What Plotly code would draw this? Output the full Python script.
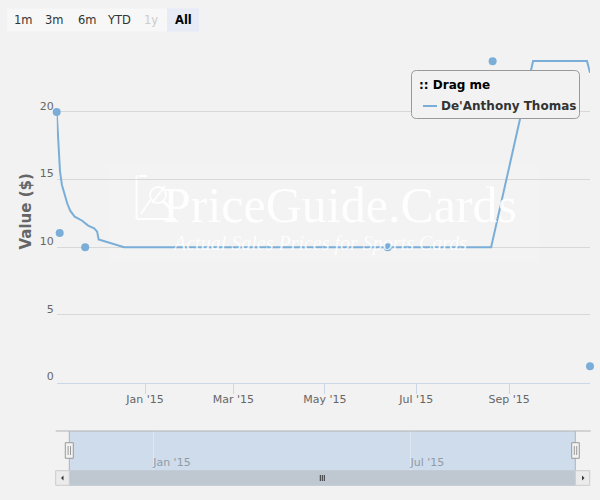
import plotly.graph_objects as go

# ---------------- data ----------------
series_name = "De'Anthony Thomas"
line_dates = ["2014-11-03", "2014-11-04", "2014-11-05 05:00", "2014-11-06 12:00", "2014-11-08",
              "2014-11-10", "2014-11-12", "2014-11-15", "2014-11-20", "2014-11-24",
              "2014-11-28", "2014-11-30", "2014-12-01", "2014-12-09", "2014-12-18",
              "2015-08-20", "2015-09-17", "2015-10-23", "2015-10-25"]
line_values = [20.0, 17.8, 15.6, 14.6, 14.0,
               13.25, 12.7, 12.26, 11.96, 11.6,
               11.4, 11.15, 10.58, 10.33, 10.0,
               10.0, 23.76, 23.76, 22.9]
sale_dates = ["2014-11-03", "2014-11-05", "2014-11-22", "2015-06-12", "2015-08-21", "2015-10-25"]
sale_values = [20.0, 11.05, 10.0, 10.0, 23.75, 1.2]

x_start, x_end = "2014-11-03", "2015-10-25"
x_tick_dates = ["2015-01-01", "2015-03-01", "2015-05-01", "2015-07-01", "2015-09-01"]
x_tick_labels = ["Jan '15", "Mar '15", "May '15", "Jul '15", "Sep '15"]
nav_tick_dates = ["2015-01-01", "2015-07-01"]
nav_tick_labels = ["Jan '15", "Jul '15"]
y_ticks = [0, 5, 10, 15, 20, 25]
y_tick_labels = ["0", "5", "10", "15", "20", ""]
range_buttons = ["1m", "3m", "6m", "YTD", "1y", "All"]
y_title = "Value ($)"
legend_title = ":: Drag me"
watermark_title = "PriceGuide.Cards"
watermark_sub = "Actual Sales Prices for Sports Cards"

# ---------------- styling helpers ----------------
W, H = 600, 500
BG = "#f2f2f2"
SERIES = "#7aaed8"
FONT = "DejaVu Sans"


def px(x):
    return x / W


def py(y):
    return 1 - y / H


def rect(x0, y0, x1, y1, fill=None, line=None, lw=1, layer="above"):
    return dict(type="rect", xref="paper", yref="paper",
                x0=px(x0), x1=px(x1), y0=py(y1), y1=py(y0),
                fillcolor=fill if fill else "rgba(0,0,0,0)",
                line=dict(color=line if line else "rgba(0,0,0,0)", width=lw if line else 0),
                layer=layer)


def seg(x0, y0, x1, y1, color, lw=1, layer="above"):
    return dict(type="line", xref="paper", yref="paper",
                x0=px(x0), x1=px(x1), y0=py(y0), y1=py(y1),
                line=dict(color=color, width=lw), layer=layer)


def rounded(x0, y0, x1, y1, r):
    rx, ry = r / W, r / H
    a, b, c, d = px(x0), px(x1), py(y1), py(y0)  # left, right, bottom, top
    return (f"M {a+rx},{d} L {b-rx},{d} Q {b},{d} {b},{d-ry} L {b},{c+ry} "
            f"Q {b},{c} {b-rx},{c} L {a+rx},{c} Q {a},{c} {a},{c+ry} "
            f"L {a},{d-ry} Q {a},{d} {a+rx},{d} Z")


fig = go.Figure()

# series
fig.add_trace(go.Scatter(x=line_dates, y=line_values, mode="lines", name=series_name,
                         line=dict(color=SERIES, width=2), showlegend=False,
                         hoverinfo="skip", xaxis="x", yaxis="y"))
fig.add_trace(go.Scatter(x=sale_dates, y=sale_values, mode="markers", name=series_name,
                         marker=dict(color=SERIES, size=8), showlegend=False,
                         cliponaxis=False, xaxis="x", yaxis="y"))
# navigator axis carrier (series hidden in the navigator, as in the reference)
fig.add_trace(go.Scatter(x=line_dates, y=line_values, mode="lines", name="navigator",
                         line=dict(color=SERIES, width=1), opacity=0, showlegend=False,
                         hoverinfo="skip", xaxis="x2", yaxis="y2"))

shapes = []
annotations = []

# faint watermark backdrop + logo
shapes.append(rect(107, 165, 540, 262, fill="rgba(255,255,255,0.1)", layer="below"))
wm = "rgba(255,255,255,0.85)"
shapes += [
    seg(136.5, 175, 136.5, 219, wm, 2, "below"),
    seg(136.5, 219, 176, 219, wm, 2, "below"),
    seg(139, 176, 147, 176, wm, 2, "below"),
    seg(141, 214, 151, 199, wm, 2, "below"),
    seg(152, 203, 165, 186, wm, 2, "below"),
    seg(163, 201, 171, 209, wm, 3, "below"),
    dict(type="circle", xref="paper", yref="paper", x0=px(150), x1=px(166), y0=py(203), y1=py(187),
         line=dict(color=wm, width=2), layer="below"),
]
annotations.append(dict(text=watermark_title, xref="paper", yref="paper", x=px(340), y=py(205),
                        xanchor="center", yanchor="middle", showarrow=False,
                        font=dict(family="Liberation Serif", size=50, color=wm)))
annotations.append(dict(text=f"<i>{watermark_sub}</i>", xref="paper", yref="paper", x=px(319), y=py(243),
                        xanchor="center", yanchor="middle", showarrow=False,
                        font=dict(family="Liberation Serif", size=20, color=wm)))

# y-axis title
annotations.append(dict(text=f"<b>{y_title}</b>", xref="paper", yref="paper", x=px(25.5), y=py(212),
                        xanchor="center", yanchor="middle", textangle=-90, showarrow=False,
                        font=dict(family=FONT, size=15, color="#666666")))

# range selector buttons
for i, lab in enumerate(range_buttons):
    x0 = 7 + 32 * i
    selected = lab == "All"
    shapes.append(rect(x0, 8.5, x0 + 32, 31.5, fill="#e6ebf5" if selected else "#f7f7f7"))
    color = "#000000" if selected else ("#cccccc" if lab == "1y" else "#333333")
    txt = f"<b>{lab}</b>" if selected else lab
    annotations.append(dict(text=txt, xref="paper", yref="paper", x=px(x0 + 16), y=py(20),
                            xanchor="center", yanchor="middle", showarrow=False,
                            font=dict(family=FONT, size=11.5, color=color)))

# legend box
shapes.append(dict(type="path", xref="paper", yref="paper", path=rounded(411.5, 70.5, 579.5, 118.5, 5),
                   fillcolor=BG, line=dict(color="#999999", width=1), layer="above"))
annotations.append(dict(text=f"<b>{legend_title}</b>", xref="paper", yref="paper", x=px(417), y=py(85),
                        xanchor="left", yanchor="middle", showarrow=False,
                        font=dict(family=FONT, size=12, color="#000000")))
shapes.append(seg(423, 106, 437, 106, SERIES, 2))
annotations.append(dict(text=f"<b>{series_name}</b>", xref="paper", yref="paper", x=px(438.5), y=py(106),
                        xanchor="left", yanchor="middle", showarrow=False,
                        font=dict(family=FONT, size=12, color="#333333")))

# navigator
NAV_T, NAV_B, SB_B = 431, 470.7, 485.3
NAV_L, NAV_R = 69.3, 575.3
SB_L, SB_R = 55.7, 589.7
shapes.append(rect(NAV_L, NAV_T, NAV_R, NAV_B, fill="#cedcec", layer="below"))
shapes.append(seg(SB_L, NAV_T, SB_R + 1, NAV_T, "#b2b2b2", 1))
shapes.append(seg(NAV_L, NAV_T, NAV_L, NAV_B, "#b2b2b2", 1))
shapes.append(seg(NAV_R, NAV_T, NAV_R, NAV_B, "#b2b2b2", 1))
# scrollbar
shapes.append(rect(NAV_L, NAV_B, NAV_R, SB_B, fill="#bfc8d1", line="#bfc8d1"))
shapes.append(rect(SB_L, NAV_B, NAV_L, SB_B, fill="#ebebeb", line="#cccccc"))
shapes.append(rect(NAV_R, NAV_B, SB_R, SB_B, fill="#ebebeb", line="#cccccc"))
ay = (NAV_B + SB_B) / 2
shapes.append(dict(type="path", xref="paper", yref="paper",
                   path=f"M {px(61)},{py(ay)} L {px(63.5)},{py(ay-2.5)} L {px(63.5)},{py(ay+2.5)} Z",
                   fillcolor="#333333", line=dict(width=0)))
shapes.append(dict(type="path", xref="paper", yref="paper",
                   path=f"M {px(584.5)},{py(ay)} L {px(582)},{py(ay-2.5)} L {px(582)},{py(ay+2.5)} Z",
                   fillcolor="#333333", line=dict(width=0)))
gx = (NAV_L + NAV_R) / 2
for dx in (-2, 0, 2):
    shapes.append(seg(gx + dx, ay - 3, gx + dx, ay + 3, "#333333", 1))
# handles
for hx0, hx1 in ((65.3, 73.3), (571.7, 579.3)):
    shapes.append(rect(hx0, 442.7, hx1, 458.3, fill=BG, line="#999999"))
    c = (hx0 + hx1) / 2
    shapes.append(seg(c - 1.2, 446, c - 1.2, 455, "#999999", 1))
    shapes.append(seg(c + 1.2, 446, c + 1.2, 455, "#999999", 1))

fig.update_layout(
    width=W, height=H, autosize=False,
    margin=dict(l=0, r=0, t=0, b=0),
    paper_bgcolor=BG, plot_bgcolor="rgba(0,0,0,0)",
    font=dict(family=FONT, size=11, color="#666666"),
    showlegend=False,
    hovermode="closest",
    xaxis=dict(domain=[px(56.7), px(590)], range=[x_start, x_end], type="date",
               tickvals=x_tick_dates, ticktext=x_tick_labels,
               showgrid=False, zeroline=False,
               showline=True, linecolor="#ccd6eb", linewidth=1,
               ticks="outside", ticklen=10, tickcolor="#ccd6eb", tickwidth=1,
               ticklabelstandoff=-4,
               tickfont=dict(family=FONT, size=11, color="#666666"),
               anchor="y", automargin=False, fixedrange=True),
    yaxis=dict(domain=[py(382.5), py(44.3)], range=[0, 25],
               tickvals=y_ticks, ticktext=y_tick_labels,
               showgrid=True, gridcolor="#d8d8d8", gridwidth=1, zeroline=False,
               showline=False, ticks="", ticklabelshift=-6, ticklabelstandoff=2,
               tickfont=dict(family=FONT, size=11, color="#666666"),
               anchor="x", automargin=False, fixedrange=True),
    xaxis2=dict(domain=[px(NAV_L), px(NAV_R)], range=[x_start, x_end], type="date",
                tickvals=nav_tick_dates, ticktext=nav_tick_labels,
                showgrid=True, gridcolor="rgba(255,255,255,0.35)", zeroline=False,
                showline=False, ticks="", ticklabelposition="inside right",
                ticklabelstandoff=-3,
                tickfont=dict(family=FONT, size=11, color="#929ba6"),
                anchor="y2", automargin=False, fixedrange=True),
    yaxis2=dict(domain=[py(NAV_B), py(NAV_T)], range=[0, 1],
                showgrid=False, zeroline=False, showline=False, showticklabels=False, ticks="",
                anchor="x2", fixedrange=True),
    shapes=shapes,
    annotations=annotations,
)

fig.write_html("out.html")
